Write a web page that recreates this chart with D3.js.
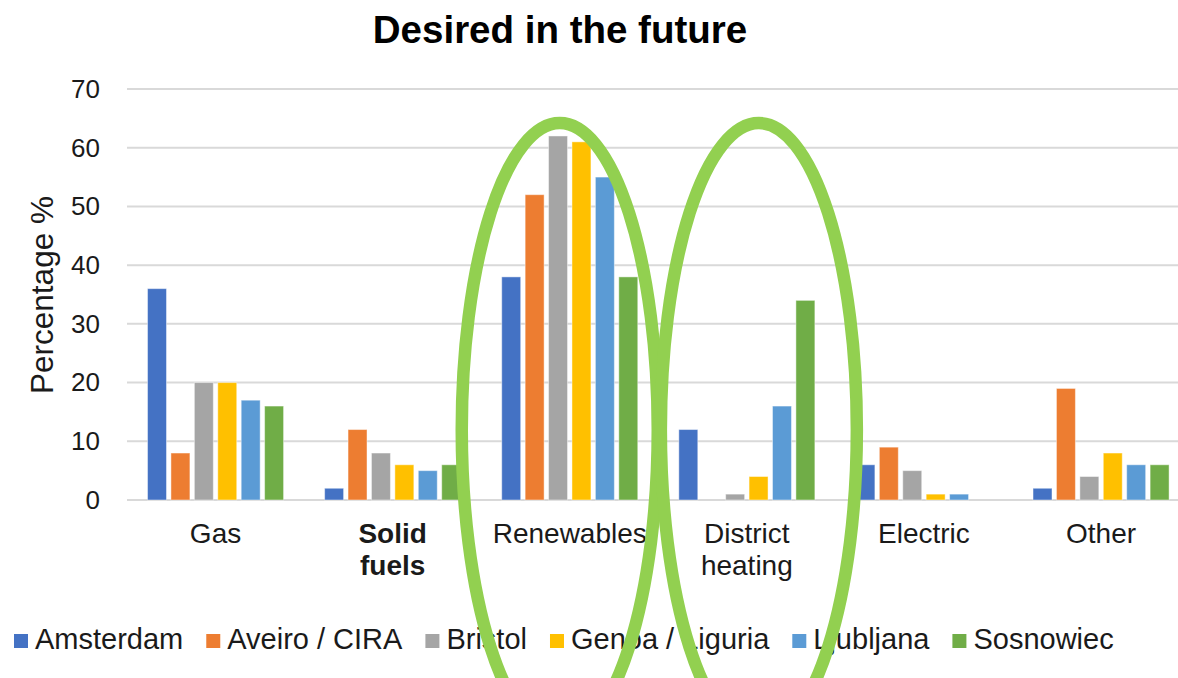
<!DOCTYPE html>
<html>
<head>
<meta charset="utf-8">
<script src="https://cdn.jsdelivr.net/npm/d3@7"></script>
<style>
  html, body { margin: 0; padding: 0; background: #ffffff; }
  svg { display: block; font-family: "Liberation Sans", Arial, sans-serif; }
</style>
</head>
<body>
<svg id="chart" width="1178" height="678"></svg>
<script>
// Heating source categories (x axis)
const categories = ["Gas", "Solid fuels", "Renewables", "District heating", "Electric", "Other"];
// Cities (series)
const seriesNames = ["Amsterdam", "Aveiro / CIRA", "Bristol", "Genoa / Liguria", "Ljubljana", "Sosnowiec"];
// Percentage of respondents per category, one array per city
const amsterdam = [36, 2, 38, 12, 6, 2];
const aveiro    = [8, 12, 52, 0, 9, 19];
const bristol   = [20, 8, 62, 1, 5, 4];
const genoa     = [20, 6, 61, 4, 1, 8];
const ljubljana = [17, 5, 55, 16, 1, 6];
const sosnowiec = [16, 6, 38, 34, 0, 6];
// Y axis ticks
const yTicks = [0, 10, 20, 30, 40, 50, 60, 70];
// Categories circled as highlights
const highlighted = ["Renewables", "District heating"];

const seriesValues = [amsterdam, aveiro, bristol, genoa, ljubljana, sosnowiec];
const colors = ["#4472C4", "#ED7D31", "#A5A5A5", "#FFC000", "#5B9BD5", "#70AD47"];

const svg = d3.select("#chart");

const plotLeft = 127, plotTop = 89, plotBottom = 500;
const step = 177.1;

const x0 = d3.scaleBand()
  .domain(categories)
  .range([plotLeft, plotLeft + step * categories.length])
  .padding(0);

const x1 = d3.scaleBand()
  .domain(seriesNames)
  .range([18.3, step - 18.3])
  .paddingInner(0.19)
  .paddingOuter(0.095);

const y = d3.scaleLinear().domain([0, 70]).range([plotBottom, plotTop]);

const color = d3.scaleOrdinal().domain(seriesNames).range(colors);

// Title
svg.append("text")
  .attr("x", 560).attr("y", 43)
  .attr("text-anchor", "middle")
  .attr("font-size", 38.5).attr("font-weight", "bold")
  .attr("fill", "#000")
  .text("Desired in the future");

// Horizontal gridlines
svg.append("g").selectAll("line")
  .data(yTicks)
  .join("line")
  .attr("x1", plotLeft).attr("x2", 1178)
  .attr("y1", d => y(d)).attr("y2", d => y(d))
  .attr("stroke", "#d9d9d9").attr("stroke-width", 2);

// Y axis labels
const yAxis = d3.axisLeft(y).tickValues(yTicks).tickSize(0).tickPadding(0);
const gy = svg.append("g").attr("transform", "translate(100,0)").call(yAxis);
gy.select(".domain").remove();
gy.selectAll("text")
  .attr("font-size", 26)
  .attr("font-family", "Liberation Sans, Arial, sans-serif")
  .attr("fill", "#1a1a1a");

// Y axis title
svg.append("text")
  .attr("transform", "translate(53,295) rotate(-90)")
  .attr("text-anchor", "middle")
  .attr("font-size", 31.5)
  .attr("fill", "#1a1a1a")
  .text("Percentage %");

// Bars
const groups = svg.append("g").selectAll("g")
  .data(categories)
  .join("g")
  .attr("transform", d => `translate(${x0(d)},0)`);

groups.selectAll("rect")
  .data((c, ci) => seriesNames.map((s, si) => ({ series: s, value: seriesValues[si][ci] })))
  .join("rect")
  .attr("x", d => x1(d.series))
  .attr("width", x1.bandwidth())
  .attr("y", d => y(d.value))
  .attr("height", d => y(0) - y(d.value))
  .attr("fill", d => color(d.series))
  .attr("stroke", "#ffffff")
  .attr("stroke-opacity", 0.45)
  .attr("stroke-width", 1);

// Category labels (multi-word names wrap onto two lines)
const catLabels = svg.append("g").selectAll("text")
  .data(categories)
  .join("text")
  .attr("x", d => x0(d) + x0.bandwidth() / 2)
  .attr("y", 543)
  .attr("text-anchor", "middle")
  .attr("font-size", 28)
  .attr("font-weight", d => d === "Solid fuels" ? "bold" : "normal")
  .attr("fill", "#1a1a1a");

catLabels.each(function (d) {
  const words = d.split(" ");
  const t = d3.select(this);
  words.forEach((w, i) => {
    t.append("tspan")
      .attr("x", x0(d) + x0.bandwidth() / 2)
      .attr("dy", i === 0 ? 0 : 32)
      .text(w);
  });
});

// Legend
const legend = svg.append("g");
let lx = 14;
seriesNames.forEach((s, i) => {
  legend.append("rect")
    .attr("x", lx).attr("y", 634)
    .attr("width", 14).attr("height", 14)
    .attr("fill", colors[i]);
  const t = legend.append("text")
    .attr("x", lx + 21).attr("y", 649)
    .attr("font-size", 29)
    .attr("fill", "#1a1a1a")
    .text(s);
  lx += 21 + t.node().getComputedTextLength() + 23;
});

// Highlight ellipses around the circled categories
const ellipseOffsets = [-10, 12];
svg.append("g").selectAll("ellipse")
  .data(highlighted)
  .join("ellipse")
  .attr("cx", (d, i) => x0(d) + x0.bandwidth() / 2 + ellipseOffsets[i])
  .attr("cy", 430)
  .attr("rx", 98)
  .attr("ry", 307)
  .attr("fill", "none")
  .attr("stroke", "#92D050")
  .attr("stroke-width", 12.5);
</script>
</body>
</html>
